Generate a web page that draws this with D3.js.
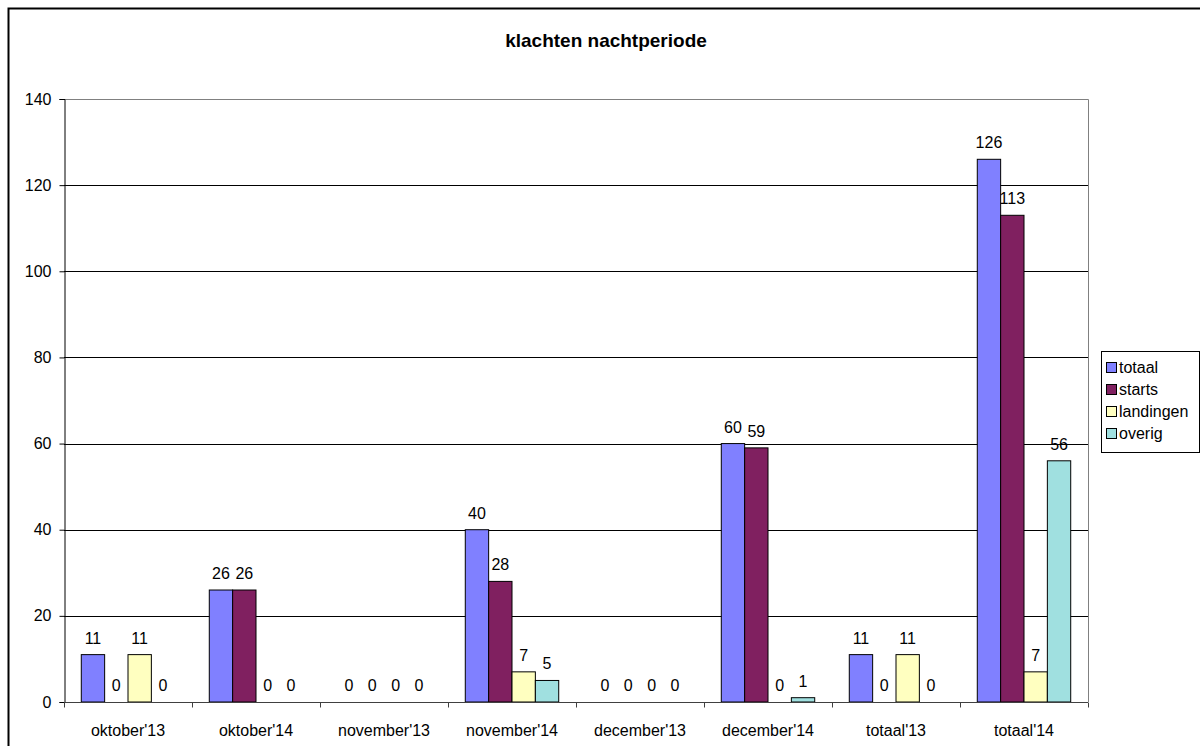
<!DOCTYPE html>
<html>
<head>
<meta charset="utf-8">
<script src="https://cdn.jsdelivr.net/npm/d3@7"></script>
<style>
	body { margin: 0; background: #fff; }
	svg { display: block; font-family: "Liberation Sans", Arial, sans-serif; }
</style>
</head>
<body>
<div id="chart"></div>
<script>
const categories = ["oktober'13", "oktober'14", "november'13", "november'14", "december'13", "december'14", "totaal'13", "totaal'14"];
const seriesNames = ["totaal", "starts", "landingen", "overig"];
const totaal = [11, 26, 0, 40, 0, 60, 11, 126];
const starts = [0, 26, 0, 28, 0, 59, 0, 113];
const landingen = [11, 0, 0, 7, 0, 0, 11, 7];
const overig = [0, 0, 0, 5, 0, 1, 0, 56];
const yTicks = [0, 20, 40, 60, 80, 100, 120, 140];

const seriesValues = [totaal, starts, landingen, overig];
const colors = ["#8080ff", "#802060", "#ffffc0", "#a0e0e0"];

const plotLeft = 64, plotRight = 1088, plotTop = 99, plotBottom = 702;

const svg = d3.select("#chart").append("svg")
	.attr("width", 1200)
	.attr("height", 746);

// outer frame (runs off the right / bottom edge like the original)
svg.append("rect")
	.attr("x", 8.5)
	.attr("y", 8.5)
	.attr("width", 1300)
	.attr("height", 900)
	.attr("fill", "none")
	.attr("stroke", "#000")
	.attr("stroke-width", 2);

svg.append("text")
	.attr("x", 606)
	.attr("y", 47)
	.attr("text-anchor", "middle")
	.style("font-size", "19px")
	.style("font-weight", "bold")
	.text("klachten nachtperiode");

const x = d3.scaleBand()
	.domain(categories)
	.range([plotLeft, plotRight])
	.paddingInner(0)
	.paddingOuter(0);

const x1 = d3.scaleBand()
	.domain(seriesNames)
	.range([0, x.bandwidth()])
	.paddingInner(0)
	.paddingOuter(0.74);

const y = d3.scaleLinear()
	.domain([0, 140])
	.range([plotBottom, plotTop]);

// gridlines
svg.append("g")
	.selectAll("line")
	.data(yTicks.filter(d => d > 0 && d < 140))
	.join("line")
	.attr("x1", plotLeft)
	.attr("x2", plotRight)
	.attr("y1", d => Math.round(y(d)) + 0.5)
	.attr("y2", d => Math.round(y(d)) + 0.5)
	.attr("stroke", "#000");

// plot area border (top + right)
svg.append("path")
	.attr("d", "M" + plotLeft + "," + (plotTop + 0.5) + "H" + (plotRight + 0.5) + "V" + plotBottom)
	.attr("fill", "none")
	.attr("stroke", "#808080");

// bars
const groups = svg.append("g")
	.selectAll("g")
	.data(categories)
	.join("g")
	.attr("transform", d => "translate(" + x(d) + ",0)");

groups.selectAll("rect")
	.data((c, i) => seriesNames.map((s, j) => ({ s: s, v: seriesValues[j][i], c: colors[j] })).filter(d => d.v > 0))
	.join("rect")
	.attr("x", d => x1(d.s))
	.attr("y", d => y(d.v))
	.attr("width", x1.bandwidth())
	.attr("height", d => y(0) - y(d.v))
	.attr("fill", d => d.c)
	.attr("stroke", "#000")
	.attr("stroke-width", 1);

groups.selectAll("text")
	.data((c, i) => seriesNames.map((s, j) => ({ s: s, v: seriesValues[j][i] })))
	.join("text")
	.attr("x", d => x1(d.s) + x1.bandwidth() / 2)
	.attr("y", d => y(d.v) - 11)
	.attr("text-anchor", "middle")
	.style("font-size", "16px")
	.text(d => d.v);

// axes
const yAxis = d3.axisLeft(y)
	.tickValues(yTicks)
	.tickSize(5)
	.tickPadding(8)
	.tickFormat(d3.format("d"));

const gy = svg.append("g")
	.attr("transform", "translate(" + (plotLeft + 0.5) + ",0)")
	.call(yAxis);
gy.selectAll("text").style("font-size", "16px").attr("fill", "#000");
gy.select(".domain").attr("stroke", "#000");

const xAxis = d3.axisBottom(x)
	.tickSize(0)
	.tickPadding(22);

const gx = svg.append("g")
	.attr("transform", "translate(0," + (plotBottom + 0.5) + ")")
	.call(xAxis);
gx.select(".domain").attr("d", "M" + plotLeft + ",0H" + plotRight).attr("stroke", "#404040");
gx.selectAll("text").style("font-size", "16px").attr("fill", "#000");

// category boundary ticks
gx.append("g")
	.selectAll("line")
	.data(categories.concat(["end"]))
	.join("line")
	.attr("x1", (d, i) => Math.round(i < categories.length ? x(d) : plotRight) + 0.5)
	.attr("x2", (d, i) => Math.round(i < categories.length ? x(d) : plotRight) + 0.5)
	.attr("y1", 0)
	.attr("y2", 5)
	.attr("stroke", "#404040");

// legend
const legend = svg.append("g");
legend.append("rect")
	.attr("x", 1101.5)
	.attr("y", 351.5)
	.attr("width", 98)
	.attr("height", 101)
	.attr("fill", "#fff")
	.attr("stroke", "#000");

const items = legend.selectAll("g.item")
	.data(seriesNames)
	.join("g")
	.attr("class", "item")
	.attr("transform", (d, i) => "translate(1106," + (367 + i * 22) + ")");

items.append("rect")
	.attr("x", 0.5)
	.attr("y", -4.5)
	.attr("width", 10)
	.attr("height", 10)
	.attr("fill", (d, i) => colors[i])
	.attr("stroke", "#000");

items.append("text")
	.attr("x", 13)
	.attr("y", 6)
	.style("font-size", "16px")
	.text(d => d);
</script>
</body>
</html>
